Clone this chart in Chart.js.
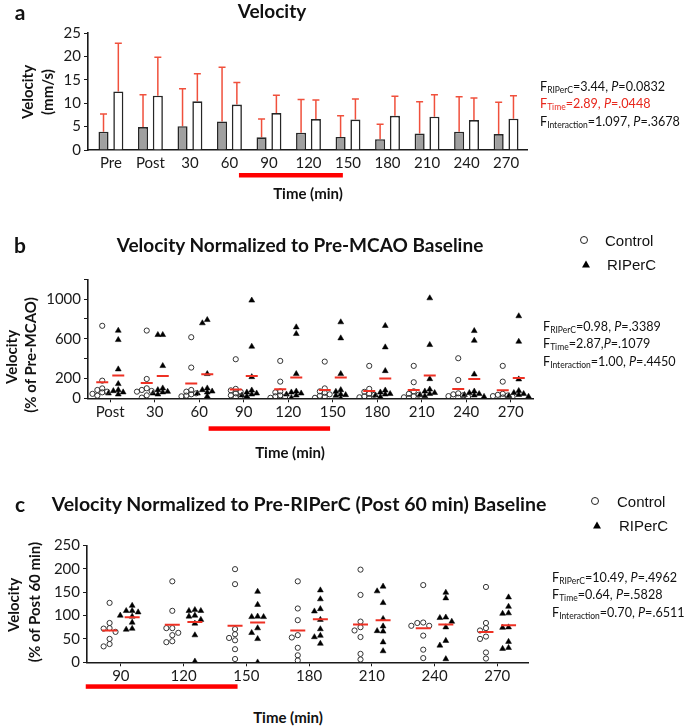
<!DOCTYPE html>
<html>
<head>
<meta charset="utf-8">
<script src="https://cdn.jsdelivr.net/npm/chart.js@4"></script>
<style>
  body { margin: 0; background: #fff; font-family: Lato, sans-serif; color: #111; }
  #page { position: relative; width: 685px; height: 727px; overflow: hidden; }
  canvas { position: absolute; left: 0; }
  .t { position: absolute; white-space: nowrap; transform: translate(-50%, -50%); }
  .title { font-weight: bold; font-size: 19px; }
  .letter { font-weight: bold; font-size: 21px; }
  .axt { font-weight: bold; font-size: 15px; }
  .yt { font-weight: bold; font-size: 15px; transform: translate(-50%, -50%) rotate(-90deg); }
  .ann { position: absolute; white-space: nowrap; font-size: 12.6px; transform: translateY(-50%); }
  .ann sub { font-size: 8.5px; vertical-align: -2px; }
  .red { color: #e8271c; }
  .leg { position: absolute; white-space: nowrap; font-family: "Liberation Sans", Arial, sans-serif; font-size: 15px; transform: translateY(-50%); }
  .circ { position: absolute; width: 6px; height: 6px; border: 1px solid #222; border-radius: 50%; transform: translate(-50%, -50%); }
  .tri { position: absolute; width: 0; height: 0; border-left: 4px solid transparent; border-right: 4px solid transparent; border-bottom: 7px solid #000; transform: translate(-50%, -50%); }
</style>
</head>
<body>
<div id="page">
  <canvas id="chartA" width="685" height="200" style="top:0"></canvas>
  <canvas id="chartB" width="685" height="240" style="top:220px"></canvas>
  <canvas id="chartC" width="685" height="240" style="top:460px"></canvas>

  <!-- panel a -->
  <div class="t letter" style="left:20px;top:11px">a</div>
  <div class="t title" style="left:272px;top:10px">Velocity</div>
  <div class="t yt" style="left:27px;top:92px">Velocity</div>
  <div class="t yt" style="left:47px;top:92px">(mm/s)</div>
  <div class="t axt" style="left:308px;top:193px">Time (min)</div>
  <div class="ann" style="left:540px;top:87px">F<sub>RIPerC</sub>=3.44, <i>P</i>=0.0832</div>
  <div class="ann red" style="left:540px;top:104px">F<sub>Time</sub>=2.89, <i>P</i>=.0448</div>
  <div class="ann" style="left:540px;top:122px">F<sub>Interaction</sub>=1.097, <i>P</i>=.3678</div>

  <!-- panel b -->
  <div class="t letter" style="left:20px;top:244px">b</div>
  <div class="t title" style="left:300px;top:244px">Velocity Normalized to Pre-MCAO Baseline</div>
  <div class="circ" style="left:584px;top:240px"></div>
  <div class="leg" style="left:605px;top:240px">Control</div>
  <div class="tri" style="left:586px;top:264px"></div>
  <div class="leg" style="left:607px;top:264px">RIPerC</div>
  <div class="t yt" style="left:11px;top:357px">Velocity</div>
  <div class="t yt" style="left:30px;top:355px">(% of Pre-MCAO)</div>
  <div class="t axt" style="left:290px;top:452px">Time (min)</div>
  <div class="ann" style="left:543px;top:327px">F<sub>RIPerC</sub>=0.98, <i>P</i>=.3389</div>
  <div class="ann" style="left:543px;top:344px">F<sub>Time</sub>=2.87,<i>P</i>=.1079</div>
  <div class="ann" style="left:543px;top:362px">F<sub>Interaction</sub>=1.00, <i>P</i>=.4450</div>

  <!-- panel c -->
  <div class="t letter" style="left:20px;top:503px">c</div>
  <div class="t title" style="left:299px;top:503px;font-size:19.5px">Velocity Normalized to Pre-RIPerC (Post 60 min) Baseline</div>
  <div class="circ" style="left:595px;top:501px"></div>
  <div class="leg" style="left:617px;top:501px">Control</div>
  <div class="tri" style="left:597px;top:525px"></div>
  <div class="leg" style="left:619px;top:525px">RIPerC</div>
  <div class="t yt" style="left:13px;top:605px">Velocity</div>
  <div class="t yt" style="left:34px;top:602px">(% of Post 60 min)</div>
  <div class="t axt" style="left:288px;top:717px">Time (min)</div>
  <div class="ann" style="left:552px;top:578px">F<sub>RIPerC</sub>=10.49, <i>P</i>=.4962</div>
  <div class="ann" style="left:552px;top:595px">F<sub>Time</sub>=0.64, <i>P</i>=.5828</div>
  <div class="ann" style="left:552px;top:613px">F<sub>Interaction</sub>=0.70, <i>P</i>=.6511</div>
</div>

<script>
// ---- data ----
const timesA = ['Pre', 'Post', '30', '60', '90', '120', '150', '180', '210', '240', '270'];
const ctrlMeanA = [3.9, 4.9, 5.1, 6.1, 2.7, 3.7, 2.8, 2.3, 3.5, 3.9, 3.4];
const ctrlErrA = [3.8, 6.9, 8.0, 11.6, 3.9, 7.1, 4.5, 3.2, 6.8, 7.5, 6.8];
const riperMeanA = [12.5, 11.6, 10.4, 9.7, 7.9, 6.6, 6.5, 7.3, 7.1, 6.4, 6.7];
const riperErrA = [10.3, 8.2, 5.9, 4.7, 3.8, 4.1, 4.4, 4.2, 4.7, 4.7, 4.9];

const timesB = ['Post', '30', '60', '90', '120', '150', '180', '210', '240', '270'];
const ctrlB = [
  [731, 178, 100, 84, 67, 60, 45, 27],
  [683, 195, 101, 84, 74, 67, 30, 7],
  [616, 310, 84, 67, 50, 40, 27, 20],
  [394, 95, 80, 65, 50, 30, 20, 10],
  [377, 168, 70, 60, 30, 20, 15, 5],
  [370, 100, 70, 55, 40, 25, 15, 5],
  [327, 95, 65, 45, 35, 20, 10, 3],
  [327, 162, 70, 45, 35, 20, 10, 3],
  [404, 185, 50, 40, 30, 22, 14, 7],
  [327, 168, 45, 35, 28, 22, 15, 8]
];
const riperB = [
  [683, 589, 293, 145, 84, 74, 61, 50, 40],
  [640, 640, 327, 101, 84, 67, 61, 50, 40],
  [791, 758, 246, 101, 84, 70, 60, 50, 20],
  [987, 522, 215, 80, 60, 50, 40, 30, 20],
  [717, 650, 246, 70, 60, 50, 40, 30, 5],
  [768, 606, 246, 84, 67, 40, 34, 27, 0],
  [731, 515, 276, 80, 60, 45, 40, 30, 14],
  [1010, 539, 195, 90, 70, 55, 45, 35, 22],
  [680, 582, 242, 70, 55, 45, 35, 30, 16],
  [829, 572, 192, 75, 55, 45, 35, 25, 17]
];
const ctrlMeanB = [162, 155, 148, 88, 91, 84, 74, 84, 94, 81];
const riperMeanB = [229, 226, 242, 226, 209, 209, 199, 229, 195, 205];
const yLabelsB = [0, 200, 600, 1000];

const timesC = ['90', '120', '150', '180', '210', '240', '270'];
const ctrlC = [
  [127, 84, 73, 72, 65, 50, 39, 34],
  [173, 110, 73, 73, 63, 58, 45, 43],
  [199, 167, 71, 60, 52, 47, 28, 7],
  [173, 115, 90, 58, 53, 31, 15, 4],
  [198, 144, 87, 75, 68, 54, 18, 6],
  [165, 85, 84, 78, 78, 57, 27, 9],
  [161, 84, 73, 68, 55, 50, 21, 8]
];
const riperC = [
  [121, 110, 110, 107, 100, 98, 85, 72, 70],
  [112, 110, 110, 100, 98, 91, 83, 58, 2],
  [151, 123, 98, 97, 97, 73, 63, 50, 0],
  [154, 135, 114, 109, 91, 71, 57, 54, 40],
  [162, 152, 127, 93, 77, 67, 66, 43, 24],
  [149, 137, 96, 95, 87, 75, 46, 36, 7],
  [139, 119, 105, 104, 75, 74, 44, 31, 29]
];
const ctrlMeanC = [68, 80, 78, 68, 81, 73, 65];
const riperMeanC = [96, 86, 85, 92, 90, 81, 79];

// ---- styling ----
const ink = '#1a1a1a';
const errColor = '#f0503c';
const meanColor = '#ee3124';
Chart.defaults.font.family = 'Lato';
Chart.defaults.color = ink;
Chart.defaults.animation = false;

// spread points of one group sideways when they collide (column scatter)
function swarm(vals, center, step, thr) {
  const placed = [];
  const out = [];
  const order = vals.map((v, i) => i).sort((a, b) => vals[b] - vals[a]);
  order.forEach(i => {
    const v = vals[i];
    let best = 0, bestHits = Infinity;
    for (const k of [0, -1, 1, -2, 2]) {
      const hits = placed.filter(p => p.k === k && Math.abs(p.v - v) < thr).length;
      if (hits < bestHits) { best = k; bestHits = hits; }
      if (hits === 0) break;
    }
    placed.push({ k: best, v: v });
    out.push({ x: center + best * step, y: v });
  });
  return out;
}

// red error bars on top of the bars
const errorBars = {
  id: 'errorBars',
  beforeDatasetsDraw(chart) {
    const ctx = chart.ctx;
    const y = chart.scales.y;
    chart.data.datasets.forEach((ds, i) => {
      if (!ds.errors) return;
      chart.getDatasetMeta(i).data.forEach((bar, j) => {
        const top = y.getPixelForValue(ds.data[j].y + ds.errors[j]);
        ctx.save();
        ctx.strokeStyle = errColor;
        ctx.lineWidth = 1.5;
        ctx.beginPath();
        ctx.moveTo(bar.x, bar.y);
        ctx.lineTo(bar.x, top);
        ctx.moveTo(bar.x - 3.5, top);
        ctx.lineTo(bar.x + 3.5, top);
        ctx.stroke();
        ctx.restore();
      });
    });
  }
};

// red bar under the x axis marking the RIPerC period
const timeBar = {
  id: 'timeBar',
  afterDraw(chart, args, opts) {
    const x = chart.scales.x;
    const x0 = x.getPixelForValue(opts.from);
    const x1 = x.getPixelForValue(opts.to);
    chart.ctx.save();
    chart.ctx.fillStyle = '#ff0000';
    chart.ctx.fillRect(x0, chart.chartArea.bottom + opts.offset - 2, x1 - x0, 4.5);
    chart.ctx.restore();
  }
};

function xAxis(labels, min, max, height, tickLen) {
  return {
    type: 'linear', min: min, max: max, offset: false,
    afterBuildTicks: s => { s.ticks = labels.map((l, i) => ({ value: i })); },
    afterFit: s => { s.height = height; },
    border: { color: ink, width: 1.6 },
    grid: { display: tickLen > 0, drawOnChartArea: false, drawTicks: tickLen > 0, tickLength: tickLen, color: ink, offset: false },
    ticks: { autoSkip: false, maxRotation: 0, padding: tickLen > 0 ? 1 : 4, font: { size: 15 }, color: ink,
      callback: v => labels[v] }
  };
}

function yAxis(max, step, width, labelFilter) {
  return {
    min: 0, max: max,
    afterFit: s => { s.width = width; },
    border: { color: ink, width: 1.6 },
    grid: { drawOnChartArea: false, tickLength: 4, color: ink },
    ticks: { stepSize: step, autoSkip: false, padding: 3, font: { size: 15 }, color: ink,
      callback: v => (labelFilter && !labelFilter.includes(v)) ? '' : v }
  };
}

// ---- panel a: bars with error bars ----
new Chart(document.getElementById('chartA'), {
  type: 'bar',
  data: {
    datasets: [
      { label: 'Control', data: ctrlMeanA.map((v, i) => ({ x: i, y: v })), errors: ctrlErrA,
        backgroundColor: '#a0a0a0', borderColor: '#262626', borderWidth: 1.6,
        categoryPercentage: 0.75, barPercentage: 0.68 },
      { label: 'RIPerC', data: riperMeanA.map((v, i) => ({ x: i, y: v })), errors: riperErrA,
        backgroundColor: '#ffffff', borderColor: '#262626', borderWidth: 1.6,
        categoryPercentage: 0.75, barPercentage: 0.68 }
    ]
  },
  options: {
    responsive: false, events: [],
    layout: { padding: { left: 0, right: 158, top: 33, bottom: 0 } },
    plugins: { legend: { display: false }, tooltip: { enabled: false },
      timeBar: { from: 3.24, to: 5.87, offset: 25 } },
    scales: {
      x: xAxis(timesA, -0.58, 10.53, 50, 0),
      y: yAxis(25, 5, 88)
    }
  },
  plugins: [errorBars, timeBar]
});

// ---- scatter panels b and c ----
function scatterPanel(id, labels, ctrl, riper, ctrlMean, riperMean, o) {
  const ctrlPts = [], riperPts = [];
  labels.forEach((l, i) => {
    ctrlPts.push(...swarm(ctrl[i], i - o.shift, o.step, o.thr));
    riperPts.push(...swarm(riper[i], i + o.shift, o.step, o.thr));
  });
  const meanStyle = { pointStyle: 'line', pointRadius: o.meanR, borderColor: meanColor,
    pointBorderWidth: 2, borderWidth: 2, showLine: false, order: 0 };
  new Chart(document.getElementById(id), {
    type: 'scatter',
    data: {
      datasets: [
        Object.assign({ label: 'Control mean', data: ctrlMean.map((v, i) => ({ x: i - o.shift, y: v })) }, meanStyle),
        Object.assign({ label: 'RIPerC mean', data: riperMean.map((v, i) => ({ x: i + o.shift, y: v })) }, meanStyle),
        { label: 'Control', data: ctrlPts, pointStyle: 'circle', pointRadius: 2.6,
          backgroundColor: 'rgba(255,255,255,0)', borderColor: '#333', pointBorderWidth: 1, order: 1 },
        { label: 'RIPerC', data: riperPts, pointStyle: 'triangle', pointRadius: 3.4,
          backgroundColor: '#000', borderColor: '#000', pointBorderWidth: 0.5, order: 1 }
      ]
    },
    options: {
      responsive: false, events: [],
      layout: { padding: { left: 0, right: o.right, top: o.top, bottom: 0 } },
      plugins: { legend: { display: false }, tooltip: { enabled: false },
        timeBar: o.bar },
      scales: {
        x: xAxis(labels, o.xmin, o.xmax, o.xh, 4),
        y: yAxis(o.ymax, o.ystep, o.yw, o.ylabels)
      }
    },
    plugins: [timeBar]
  });
}

scatterPanel('chartB', timesB, ctrlB, riperB, ctrlMeanB, riperMeanB, {
  shift: 0.18, step: 0.11, thr: 40, meanR: 6,
  right: 152, top: 59.3, xmin: -0.5, xmax: 9.5, xh: 61.7,
  ymax: 1200, ystep: 200, yw: 88, ylabels: yLabelsB,
  bar: { from: 2.21, to: 4.94, offset: 30 }
});

scatterPanel('chartC', timesC, ctrlC, riperC, ctrlMeanC, riperMeanC, {
  shift: 0.18, step: 0.095, thr: 11, meanR: 7.5,
  right: 157, top: 85.3, xmin: -0.54, xmax: 6.49, xh: 37.7,
  ymax: 250, ystep: 50, yw: 87,
  bar: { from: -0.56, to: 1.86, offset: 24 }
});
</script>
</body>
</html>
